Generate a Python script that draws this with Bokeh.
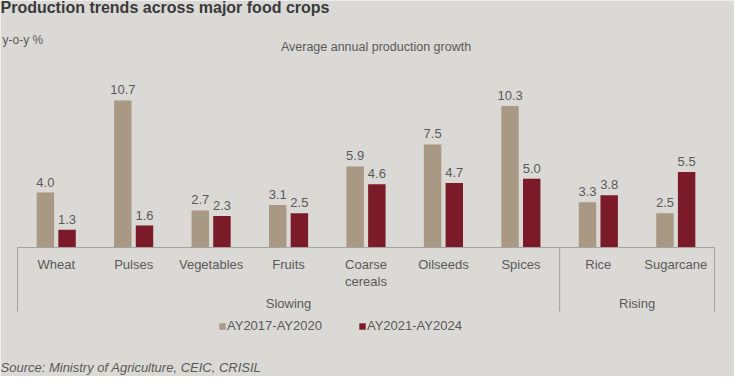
import numpy as np
from bokeh.plotting import figure
from bokeh.models import ColumnDataSource, Range1d, Label, Legend, LegendItem
from bokeh.core.properties import value
from bokeh.embed import file_html
from bokeh.resources import INLINE

# ---------------- data ----------------
crops = ["Wheat", "Pulses", "Vegetables", "Fruits", "Coarse\ncereals",
         "Oilseeds", "Spices", "Rice", "Sugarcane"]
group_names = ["Slowing", "Rising"]
group_sizes = [7, 2]
series_names = ["AY2017-AY2020", "AY2021-AY2024"]
growth_2017_2020 = [4.0, 10.7, 2.7, 3.1, 5.9, 7.5, 10.3, 3.3, 2.5]
growth_2021_2024 = [1.3, 1.6, 2.3, 2.5, 4.6, 4.7, 5.0, 3.8, 5.5]

# ---------------- layout / style ----------------
W, H = 734, 376
LEFT, RIGHT = 17, 714     # category zone in px
BASE = 247                # baseline px from top
PPU = 13.74               # px per percentage point
BG = "#dbd9d5"
TAN = "#a89884"
MAROON = "#7b1a29"
TXT = "#595959"
FONT = "Liberation Sans"

n = len(crops)
cat_w = (RIGHT - LEFT) / n

p = figure(width=W, height=H,
           x_range=Range1d(-LEFT / cat_w, (W - LEFT) / cat_w),
           y_range=Range1d(-(H - BASE) / PPU, BASE / PPU),
           output_backend="svg", toolbar_location=None,
           x_axis_location=None, y_axis_location=None, min_border=0)
p.background_fill_color = BG
p.border_fill_color = BG
p.outline_line_color = None
p.grid.visible = False

xs = np.arange(n) + 0.5
off, bw = 0.14, 0.225
src = ColumnDataSource(dict(
    x=xs, xa=xs - off, xb=xs + off, crop=crops,
    a=growth_2017_2020, b=growth_2021_2024,
    la=[f"{v:.1f}" for v in growth_2017_2020],
    lb=[f"{v:.1f}" for v in growth_2021_2024],
))

ra = p.vbar(x="xa", top="a", width=bw, bottom=0, source=src,
            fill_color=TAN, line_color=None)
rb = p.vbar(x="xb", top="b", width=bw, bottom=0, source=src,
            fill_color=MAROON, line_color=None)

common = dict(text_font=value(FONT), text_font_size="13px", text_color=TXT,
              text_align="center")
p.text(x="xa", y="a", text="la", text_baseline="bottom", y_offset=-6,
       source=src, **common)
p.text(x="xb", y="b", text="lb", text_baseline="bottom", y_offset=-6,
       source=src, **common)

# category labels
p.text(x="x", y=0, text="crop", text_baseline="top", y_offset=9,
       text_line_height=1.15, source=src, **common)

# baseline and group separators
bounds = np.concatenate([[0], np.cumsum(group_sizes)])
p.segment(x0=0, y0=0, x1=n, y1=0, line_color="#a3a3a3", line_width=1)
p.segment(x0=bounds, y0=0, x1=bounds, y1=-64 / PPU,
          line_color="#a3a3a3", line_width=1)
centers = (bounds[:-1] + bounds[1:]) / 2
p.text(x=centers, y=[0] * len(centers), text=group_names,
       text_baseline="top", y_offset=48, **common)

# texts in screen units (canvas == frame)
def lab(text, x, y_from_top, size, align="left", bold=False, italic=False,
        color=TXT):
    style = "bold" if bold else ("italic" if italic else "normal")
    p.add_layout(Label(x=x, y=H - y_from_top, x_units="screen",
                       y_units="screen", text=text, text_font=FONT,
                       text_font_size=size, text_color=color,
                       text_align=align, text_baseline="middle",
                       text_font_style=style))

lab("Production trends across major food crops", 0, 7, "16px",
    bold=True, color="#3a3a3a")
lab("y-o-y %", 2, 39, "12px")
lab("Average annual production growth", 375.5, 46, "12.5px", align="center")
lab("Source: Ministry of Agriculture, CEIC, CRISIL", 0, 367, "13px",
    italic=True)

legend = Legend(items=[LegendItem(label=series_names[0], renderers=[ra]),
                       LegendItem(label=series_names[1], renderers=[rb])],
                location=(218, 43), orientation="horizontal",
                glyph_width=8, glyph_height=8, label_standoff=1, spacing=36,
                padding=0, margin=0, background_fill_alpha=0,
                border_line_color=None, label_text_font=FONT,
                label_text_font_size="13px", label_text_color=TXT)
p.add_layout(legend)

open("out.html", "w").write(file_html(p, INLINE))
